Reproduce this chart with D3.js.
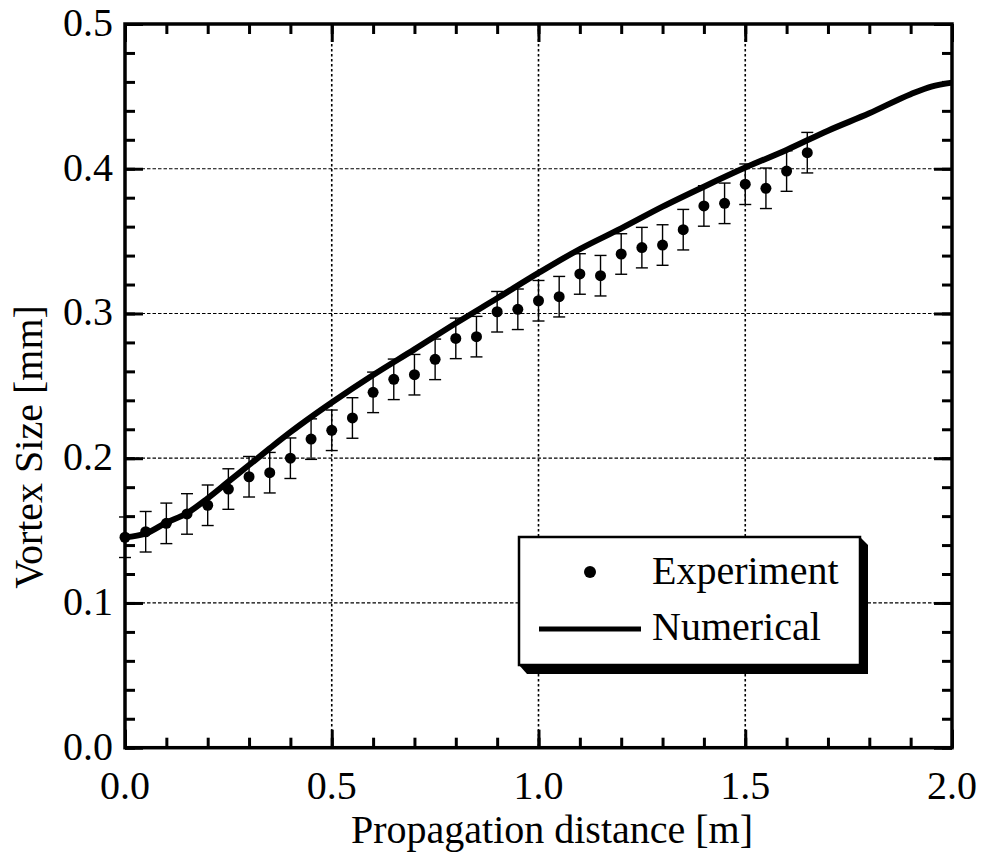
<!DOCTYPE html>
<html>
<head>
<meta charset="utf-8">
<script src="https://cdn.jsdelivr.net/npm/d3@7"></script>
<style>
  body { margin: 0; background: #fff; }
  text { font-family: "Liberation Serif", "Times New Roman", serif; fill: #000; }
</style>
</head>
<body>
<script>
// experiment: propagation distance [m] vs vortex size [mm]
var expX = [0.00, 0.05, 0.10, 0.15, 0.20, 0.25, 0.30, 0.35, 0.40, 0.45, 0.50, 0.55,
            0.60, 0.65, 0.70, 0.75, 0.80, 0.85, 0.90, 0.95, 1.00, 1.05, 1.10, 1.15,
            1.20, 1.25, 1.30, 1.35, 1.40, 1.45, 1.50, 1.55, 1.60, 1.65];
var expY = [0.1454, 0.1492, 0.1550, 0.1615, 0.1675, 0.1787, 0.1872, 0.1900, 0.2000, 0.2132,
            0.2193, 0.2278, 0.2455, 0.2545, 0.2577, 0.2683, 0.2828, 0.2840, 0.3012, 0.3029,
            0.3088, 0.3116, 0.3273, 0.3261, 0.3411, 0.3455, 0.3473, 0.3579, 0.3743, 0.3761,
            0.3893, 0.3865, 0.3984, 0.4111];
var expErr = [0.014, 0.014, 0.014, 0.014, 0.014, 0.014, 0.014, 0.014, 0.014, 0.014,
              0.014, 0.014, 0.014, 0.014, 0.014, 0.014, 0.014, 0.014, 0.014, 0.014,
              0.014, 0.014, 0.014, 0.014, 0.014, 0.014, 0.014, 0.014, 0.014, 0.014,
              0.014, 0.014, 0.014, 0.014];

// numerical curve
var numX = [0.00, 0.05, 0.10, 0.15, 0.20, 0.25, 0.30, 0.35, 0.40, 0.45, 0.50, 0.60, 0.70,
            0.80, 0.90, 1.00, 1.10, 1.20, 1.30, 1.40, 1.50, 1.60, 1.70, 1.80, 1.90, 1.95, 2.00];
var numY = [0.1454, 0.1480, 0.1555, 0.1620, 0.1723, 0.1838, 0.1953, 0.2068, 0.2180, 0.2285,
            0.2385, 0.2575, 0.2752, 0.2932, 0.3105, 0.3280, 0.3445, 0.3588, 0.3738, 0.3876,
            0.4008, 0.4130, 0.4263, 0.4383, 0.4515, 0.4568, 0.4595];

var xMajor = [0.0, 0.5, 1.0, 1.5, 2.0];
var yMajor = [0.0, 0.1, 0.2, 0.3, 0.4, 0.5];

var width = 984, height = 853;
var pLeft = 125, pRight = 952, pTop = 24, pBottom = 747.7;

var svg = d3.select("body").append("svg")
    .attr("width", width)
    .attr("height", height);

var x = d3.scaleLinear().domain([0, 2]).range([pLeft, pRight]);
var y = d3.scaleLinear().domain([0, 0.5]).range([pBottom, pTop]);

/* grid lines at the inner major ticks */
svg.append("g").selectAll("line")
    .data(xMajor.slice(1, -1))
  .enter().append("line")
    .attr("x1", function (d) { return x(d) }).attr("x2", function (d) { return x(d) })
    .attr("y1", pTop).attr("y2", pBottom)
    .attr("stroke", "#000").attr("stroke-width", 1.6)
    .attr("stroke-dasharray", "2.5,2.5");

svg.append("g").selectAll("line")
    .data(yMajor.slice(1, -1))
  .enter().append("line")
    .attr("y1", function (d) { return y(d) }).attr("y2", function (d) { return y(d) })
    .attr("x1", pLeft).attr("x2", pRight)
    .attr("stroke", "#000").attr("stroke-width", 1.2)
    .attr("stroke-dasharray", "3.5,2");

/* ticks on all four sides, pointing inward */
function ticks(g, scale, orient, count, size) {
  var ax;
  if (orient == "bottom") ax = d3.axisTop(scale);
  if (orient == "top") ax = d3.axisBottom(scale);
  if (orient == "left") ax = d3.axisRight(scale);
  if (orient == "right") ax = d3.axisLeft(scale);
  ax.ticks(count).tickSize(size).tickFormat("");
  g.call(ax);
  g.select(".domain").remove();
  g.selectAll(".tick line").attr("stroke", "#000").attr("stroke-width", 3);
}
ticks(svg.append("g").attr("transform", "translate(0," + pBottom + ")"), x, "bottom", 20, 10);
ticks(svg.append("g").attr("transform", "translate(0," + pBottom + ")"), x, "bottom", 4, 18);
ticks(svg.append("g").attr("transform", "translate(0," + pTop + ")"), x, "top", 20, 10);
ticks(svg.append("g").attr("transform", "translate(0," + pTop + ")"), x, "top", 4, 18);
ticks(svg.append("g").attr("transform", "translate(" + pLeft + ",0)"), y, "left", 25, 10);
ticks(svg.append("g").attr("transform", "translate(" + pLeft + ",0)"), y, "left", 5, 18);
ticks(svg.append("g").attr("transform", "translate(" + pRight + ",0)"), y, "right", 25, 10);
ticks(svg.append("g").attr("transform", "translate(" + pRight + ",0)"), y, "right", 5, 18);

/* frame */
svg.append("rect")
    .attr("x", pLeft).attr("y", pTop)
    .attr("width", pRight - pLeft).attr("height", pBottom - pTop)
    .attr("fill", "none").attr("stroke", "#000").attr("stroke-width", 3.5);

/* tick labels */
svg.append("g").selectAll("text")
    .data(xMajor)
  .enter().append("text")
    .attr("x", function (d) { return x(d) })
    .attr("y", 799)
    .attr("text-anchor", "middle")
    .style("font-size", "40px")
    .text(function (d) { return d3.format(".1f")(d) });

svg.append("g").selectAll("text")
    .data(yMajor)
  .enter().append("text")
    .attr("x", 113)
    .attr("y", function (d) { return y(d) + 12 })
    .attr("text-anchor", "end")
    .style("font-size", "40px")
    .text(function (d) { return d3.format(".1f")(d) });

/* axis titles */
svg.append("text")
    .attr("x", 552).attr("y", 843)
    .attr("text-anchor", "middle")
    .style("font-size", "40px")
    .text("Propagation distance [m]");

svg.append("text")
    .attr("transform", "translate(42,447) rotate(-90)")
    .attr("text-anchor", "middle")
    .style("font-size", "40px")
    .text("Vortex Size [mm]");

/* numerical curve */
var line = d3.line()
    .x(function (d, i) { return x(numX[i]) })
    .y(function (d) { return y(d) })
    .curve(d3.curveMonotoneX);

svg.append("path")
    .attr("d", line(numY))
    .attr("fill", "none")
    .attr("stroke", "#000")
    .attr("stroke-width", 6)
    .attr("stroke-linejoin", "round");

/* experiment points with error bars */
var pts = expX.map(function (d, i) { return { x: d, y: expY[i], e: expErr[i] } });

var bars = svg.append("g").selectAll("g")
    .data(pts)
  .enter().append("g")
    .attr("stroke", "#000").attr("stroke-width", 1.4);

bars.append("line")
    .attr("x1", function (d) { return x(d.x) }).attr("x2", function (d) { return x(d.x) })
    .attr("y1", function (d) { return y(d.y - d.e) }).attr("y2", function (d) { return y(d.y + d.e) });
bars.append("line")
    .attr("x1", function (d) { return x(d.x) - 6 }).attr("x2", function (d) { return x(d.x) + 6 })
    .attr("y1", function (d) { return y(d.y + d.e) }).attr("y2", function (d) { return y(d.y + d.e) });
bars.append("line")
    .attr("x1", function (d) { return x(d.x) - 6 }).attr("x2", function (d) { return x(d.x) + 6 })
    .attr("y1", function (d) { return y(d.y - d.e) }).attr("y2", function (d) { return y(d.y - d.e) });

svg.append("g").selectAll("circle")
    .data(pts)
  .enter().append("circle")
    .attr("cx", function (d) { return x(d.x) })
    .attr("cy", function (d) { return y(d.y) })
    .attr("r", 5.5)
    .attr("fill", "#000");

/* legend with drop shadow */
var lg = svg.append("g");
lg.append("polygon")
    .attr("points", "860,537 868,545 868,674 527,674 519,665")
    .attr("fill", "#000");
lg.append("rect")
    .attr("x", 519).attr("y", 537)
    .attr("width", 341).attr("height", 128)
    .attr("fill", "#fff").attr("stroke", "#000").attr("stroke-width", 2.5);
lg.append("circle")
    .attr("cx", 590).attr("cy", 572).attr("r", 6)
    .attr("fill", "#000");
lg.append("text")
    .attr("x", 652).attr("y", 584)
    .style("font-size", "40px")
    .text("Experiment");
lg.append("line")
    .attr("x1", 539).attr("x2", 641).attr("y1", 629).attr("y2", 629)
    .attr("stroke", "#000").attr("stroke-width", 5);
lg.append("text")
    .attr("x", 652).attr("y", 640)
    .style("font-size", "40px")
    .text("Numerical");
</script>
</body>
</html>
